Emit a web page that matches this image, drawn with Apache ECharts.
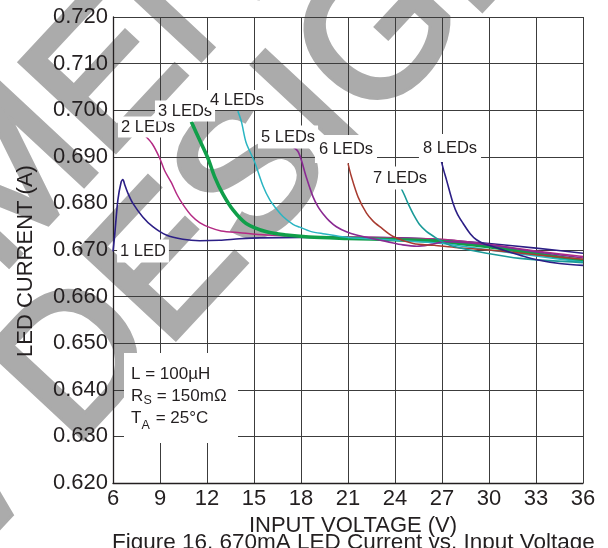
<!DOCTYPE html>
<html>
<head>
<meta charset="utf-8">
<script src="https://cdn.jsdelivr.net/npm/echarts@6/dist/echarts.min.js"></script>
<style>
html,body{margin:0;padding:0;background:#fff;}
#chart{width:608px;height:548px;}
</style>
</head>
<body>
<div id="chart"></div>
<script>
// ---- data (input voltage V, LED current A) ----
const seriesNames = ['1 LED','2 LEDs','3 LEDs','4 LEDs','5 LEDs','6 LEDs','7 LEDs','8 LEDs'];
const xTicks = [6,9,12,15,18,21,24,27,30,33,36];
const yTicks = [0.620,0.630,0.640,0.650,0.660,0.670,0.680,0.690,0.700,0.710,0.720];

const led1 = [[6.0,0.6697],[6.1,0.6729],[6.31,0.6807],[6.52,0.6846],[6.63,0.6851],[6.75,0.6840],[6.95,0.6822],[7.27,0.6800],[7.9,0.6771],[8.54,0.6750],[9.4,0.6732],[10.46,0.6723],[11.53,0.6720],[12.8,0.6721],[14.08,0.6724],[15.36,0.6726],[18,0.6727],[21,0.6727],[24,0.6726],[27,0.6722],[30,0.6714],[33,0.6704],[36,0.6693]];
const led2 = [[8.08,0.6944],[8.5,0.6928],[8.97,0.6898],[9.3,0.6870],[9.72,0.6845],[10.1,0.6818],[10.46,0.6798],[11.0,0.6774],[11.53,0.6759],[12.2,0.6748],[12.9,0.6741],[14.1,0.6737],[15.8,0.6732],[18,0.6729],[21,0.6728],[24,0.6726],[27,0.6723],[30,0.6712],[33,0.6698],[36,0.6686]];
const led3 = [[11.0,0.6975],[11.53,0.6936],[12.06,0.6897],[12.49,0.6857],[13.0,0.6821],[13.66,0.6786],[14.5,0.6757],[15.8,0.6739],[17.07,0.6732],[18.5,0.6728],[21,0.6725],[24,0.6722],[27,0.6718],[30,0.6707],[33,0.6692],[36,0.6677]];
const led4 = [[13.97,0.6998],[14.2,0.6975],[14.5,0.6930],[15.04,0.6889],[15.57,0.6838],[16.0,0.6808],[16.43,0.6788],[16.85,0.6772],[17.49,0.6755],[17.92,0.6749],[18.6,0.6740],[19.4,0.6735],[21,0.6727],[24,0.6721],[27,0.6714],[30,0.6700],[33,0.6687],[36,0.6674]];
const led5 = [[17.49,0.6921],[17.8,0.6912],[18.02,0.6893],[18.35,0.6855],[18.77,0.6814],[19.1,0.6792],[19.4,0.6778],[19.82,0.6762],[20.26,0.6750],[20.9,0.6739],[21.54,0.6732],[22.5,0.6725],[23.5,0.6718],[24.5,0.6711],[25.4,0.6708],[26.3,0.6712],[27.2,0.6718],[30,0.6711],[33,0.6696],[36,0.6683]];
const led6 = [[21.0,0.6886],[21.22,0.6857],[21.64,0.6814],[22.18,0.6779],[22.6,0.6762],[23.03,0.6750],[23.88,0.6729],[25.16,0.6714],[26.5,0.6710],[28,0.6705],[30,0.6700],[33,0.6690],[36,0.6680]];
const led7 = [[24.4,0.6832],[24.6,0.6818],[24.83,0.6800],[25.2,0.6775],[25.58,0.6754],[26.0,0.6740],[26.43,0.6730],[27.0,0.6718],[27.7,0.6708],[29.85,0.6693],[31.97,0.6682],[36,0.6673]];
const led8 = [[26.97,0.6889],[27.1,0.6872],[27.29,0.6850],[27.71,0.6800],[28.0,0.6776],[28.35,0.6757],[28.8,0.6735],[29.2,0.6722],[29.7,0.6713],[30.27,0.6707],[31.0,0.6699],[31.97,0.6689],[33.04,0.6679],[34.5,0.6671],[36,0.6667]];

const seriesData = [led1,led2,led3,led4,led5,led6,led7,led8];
const colors = ['#2c1f86','#b42a84','#109f4a','#2ab5c2','#8a2a92','#a83b30','#1a9a98','#2c1f86'];
const widths = [1.6,1.5,3.6,1.5,1.6,1.5,1.6,1.6];

const FONT = '"Liberation Sans", Arial, Helvetica, sans-serif';
const TXT = '#231f20';

// label placement (pixel centres of the in-plot labels)
const labelPos = [[143,251],[148,127],[185,111],[237,100],[288,137],[346,149],[400,178],[450,148]];
const labelPad = [[3,3,3,3],[2,3,2,3],[2,3,2,3],[3,3,0,3],[3,3,3,3],[5,4,6,4],[3,3,3,3],[5,4,6,4]];

const chart = echarts.init(document.getElementById('chart'), null, {renderer:'canvas'});

const graphics = [];
// watermark
const rot = 47 * Math.PI / 180;
graphics.push({type:'text', z:-10, x:-300, y:772, rotation:rot, silent:true,
  style:{text:'NEW DESIGNS', font:'188px ' + FONT, fill:'#ababab', stroke:'#ababab', lineWidth:6, textAlign:'left', textVerticalAlign:'middle'}});
graphics.push({type:'text', z:-10, x:-823, y:1081, rotation:rot, silent:true,
  style:{text:'NOT RECOMMENDED FOR', font:'188px ' + FONT, fill:'#ababab', stroke:'#ababab', lineWidth:6, textAlign:'left', textVerticalAlign:'middle'}});

// series labels
seriesNames.forEach((n,i)=>{
  graphics.push({type:'text', z:10, x:labelPos[i][0], y:labelPos[i][1],
    style:{text:n, font:'16.5px ' + FONT, fill:TXT, textAlign:'center', textVerticalAlign:'middle', backgroundColor:'#fff', padding:labelPad[i]}});
});

// conditions box
graphics.push({type:'rect', z:10, shape:{x:124, y:353, width:114, height:90}, style:{fill:'#fff'}});
const cf = '17px ' + FONT, sf = '12.5px ' + FONT;
graphics.push({type:'text', z:11, x:131, y:374, style:{text:'L = 100\u00b5H', font:cf, fill:TXT, textVerticalAlign:'middle'}});
graphics.push({type:'text', z:11, x:131, y:396, style:{text:'R', font:cf, fill:TXT, textVerticalAlign:'middle'}});
graphics.push({type:'text', z:11, x:143.5, y:401, style:{text:'S', font:sf, fill:TXT, textVerticalAlign:'middle'}});
graphics.push({type:'text', z:11, x:152, y:396, style:{text:' = 150m\u03a9', font:cf, fill:TXT, textVerticalAlign:'middle'}});
graphics.push({type:'text', z:11, x:131, y:418, style:{text:'T', font:cf, fill:TXT, textVerticalAlign:'middle'}});
graphics.push({type:'text', z:11, x:141.5, y:426, style:{text:'A', font:sf, fill:TXT, textVerticalAlign:'middle'}});
graphics.push({type:'text', z:11, x:151, y:418, style:{text:' = 25\u00b0C', font:cf, fill:TXT, textVerticalAlign:'middle'}});

// caption (partly cut off at the bottom, as in the original)
graphics.push({type:'text', z:11, x:112, y:543, style:{text:'Figure 16. 670mA LED Current vs. Input Voltage', font:'22.5px ' + FONT, fill:TXT, textVerticalAlign:'middle'}});

const option = {
  animation:false,
  backgroundColor:'#fff',
  grid:{left:113, right:25, top:17, bottom:65, containLabel:false},
  xAxis:{
    type:'value', min:xTicks[0], max:xTicks[xTicks.length-1], interval:xTicks[1]-xTicks[0],
    name:'INPUT VOLTAGE (V)', nameLocation:'middle', nameGap:21,
    nameTextStyle:{fontFamily:FONT, fontSize:22, color:TXT, padding:[0,0,0,10]},
    axisLine:{show:true, onZero:false, lineStyle:{color:'#231f20', width:1.3}},
    axisTick:{show:false},
    axisLabel:{fontFamily:FONT, fontSize:22, color:TXT, margin:5},
    splitLine:{show:true, lineStyle:{color:'#3c3c3c', width:1}}
  },
  yAxis:{
    type:'value', min:yTicks[0], max:yTicks[yTicks.length-1], interval:0.01,
    name:'LED CURRENT (A)', nameLocation:'middle', nameGap:76,
    nameTextStyle:{fontFamily:FONT, fontSize:22, color:TXT, padding:[0,22,0,0]},
    axisLine:{show:true, onZero:false, lineStyle:{color:'#231f20', width:1.3}},
    axisTick:{show:false},
    axisLabel:{fontFamily:FONT, fontSize:22, color:TXT, margin:5, formatter:v=>v.toFixed(3)},
    splitLine:{show:true, lineStyle:{color:'#3c3c3c', width:1}}
  },
  series: seriesData.map((d,i)=>({
    name:seriesNames[i], type:'line', data:d, showSymbol:false, symbol:'none', smooth:0.3,
    lineStyle:{color:colors[i], width:widths[i]}, z:3+i*0.01
  })),
  graphic: graphics
};
chart.setOption(option);
</script>
</body>
</html>
